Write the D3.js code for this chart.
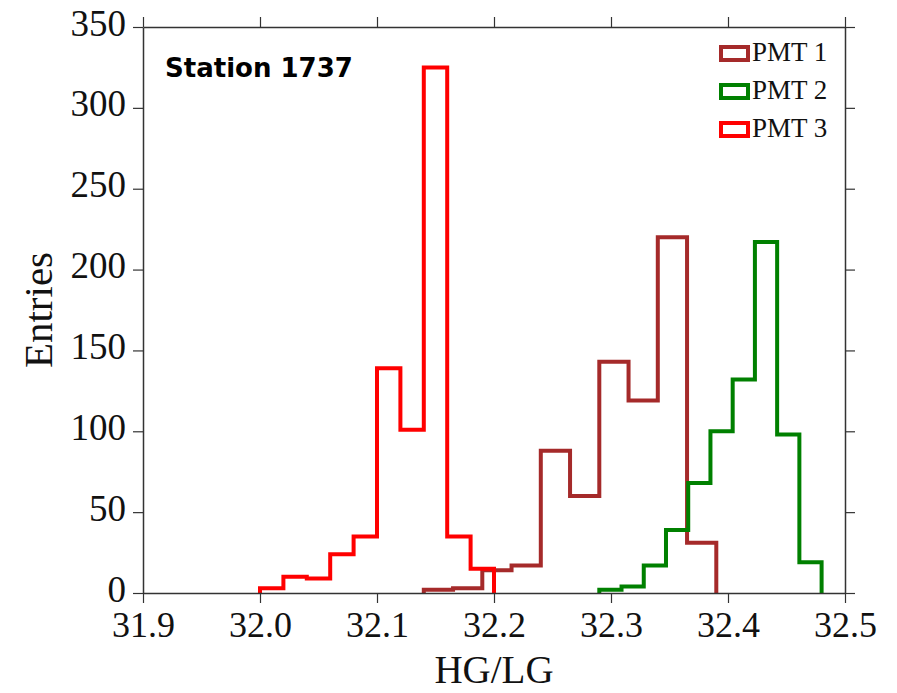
<!DOCTYPE html>
<html>
<head>
<meta charset="utf-8">
<script src="https://cdn.jsdelivr.net/npm/d3@7"></script>
<style>
    body { margin: 0; background: #fff; }
    .tick text { font-family: "Liberation Serif", serif; fill: #111; }
    .tick line, .domain { stroke: #333; }
</style>
</head>
<body>
<div id="chart"></div>
<script>
const width = 897,
    height = 693;

// Bin edges and counts (each PMT has its own binning)
const pmt1Edges = [32.140, 32.165, 32.190, 32.215, 32.240, 32.265, 32.290, 32.315, 32.340, 32.365, 32.390];
const pmt1Counts = [2, 3, 14, 17, 88, 60, 143, 119, 220, 31];

const pmt2Edges = [32.290, 32.309, 32.328, 32.347, 32.366, 32.385, 32.404, 32.423, 32.442, 32.461, 32.480];
const pmt2Counts = [2, 4, 17, 39, 68, 100, 132, 217, 98, 19];

const pmt3Edges = [32.00, 32.02, 32.04, 32.06, 32.08, 32.10, 32.12, 32.14, 32.16, 32.18, 32.20];
const pmt3Counts = [3, 10, 9, 24, 35, 139, 101, 325, 35, 15];

const xTicks = [31.9, 32.0, 32.1, 32.2, 32.3, 32.4, 32.5];
const yTicks = [0, 50, 100, 150, 200, 250, 300, 350];

const seriesNames = ["PMT 1", "PMT 2", "PMT 3"];
const seriesColors = ["#a52a2a", "#008000", "#ff0000"];

const margin = {top: 27, right: 52, bottom: 100, left: 143};

let svg = d3.select('#chart').append('svg')
    .attr('width', width)
    .attr('height', height);

let x = d3.scaleLinear()
    .domain([31.9, 32.5])
    .range([margin.left, width - margin.right]);

let y = d3.scaleLinear()
    .domain([0, 350])
    .range([height - margin.bottom, margin.top]);

// Turn edges + counts into an outline: up at the first edge, steps, down at the last edge
function outline(edges, counts) {
    let pts = [[edges[0], 0]];
    counts.forEach(function (c, i) {
        pts.push([edges[i], c]);
        pts.push([edges[i + 1], c]);
    });
    pts.push([edges[edges.length - 1], 0]);
    return pts;
}

let line = d3.line()
    .x(d => x(d[0]))
    .y(d => y(d[1]));

const series = [
    {edges: pmt1Edges, counts: pmt1Counts},
    {edges: pmt2Edges, counts: pmt2Counts},
    {edges: pmt3Edges, counts: pmt3Counts}
];

svg.append("g")
    .selectAll("path")
    .data(series)
    .enter()
    .append("path")
    .attr("fill", "none")
    .attr("stroke", (d, i) => seriesColors[i])
    .attr("stroke-width", 4)
    .attr("stroke-linejoin", "miter")
    .attr("d", d => line(outline(d.edges, d.counts)));

// Axes on all four sides, ticks pointing outward
const fmt = d3.format(".1f");

let xBottom = svg.append("g")
    .attr("transform", `translate(0,${y(0)})`)
    .call(d3.axisBottom(x).tickValues(xTicks).tickFormat(fmt).tickSize(10).tickSizeOuter(0));
xBottom.selectAll("text").attr("font-size", 36).attr("dy", "0.87em");

svg.append("g")
    .attr("transform", `translate(0,${y(350)})`)
    .call(d3.axisTop(x).tickValues(xTicks).tickFormat("").tickSize(10).tickSizeOuter(0));

let yLeft = svg.append("g")
    .attr("transform", `translate(${x(31.9)},0)`)
    .call(d3.axisLeft(y).tickValues(yTicks).tickSize(10).tickSizeOuter(0));
yLeft.selectAll("text").attr("font-size", 37).attr("dy", "0.22em").attr("x", -17);

svg.append("g")
    .attr("transform", `translate(${x(32.5)},0)`)
    .call(d3.axisRight(y).tickValues(yTicks).tickFormat("").tickSize(10).tickSizeOuter(0));

svg.selectAll(".domain").attr("stroke-width", 1.5);
svg.selectAll(".tick line").attr("stroke-width", 1.2);

// Axis titles
svg.append("text")
    .attr("x", (x(31.9) + x(32.5)) / 2)
    .attr("y", 683)
    .attr("text-anchor", "middle")
    .style("font-family", "Liberation Serif, serif")
    .style("font-size", "39px")
    .attr("fill", "#111")
    .text("HG/LG");

svg.append("text")
    .attr("transform", `translate(52,${(y(0) + y(350)) / 2}) rotate(-90)`)
    .attr("text-anchor", "middle")
    .style("font-family", "Liberation Serif, serif")
    .style("font-size", "41px")
    .attr("fill", "#111")
    .text("Entries");

// Station label
svg.append("text")
    .attr("x", 165)
    .attr("y", 77)
    .style("font-family", "DejaVu Sans, sans-serif")
    .style("font-weight", "bold")
    .style("font-size", "26px")
    .attr("fill", "#000")
    .text("Station 1737");

// Legend
let legend = svg.append("g")
    .selectAll("g")
    .data(seriesNames)
    .enter()
    .append("g")
    .attr("transform", (d, i) => `translate(721,${47 + i * 38})`);

legend.append("rect")
    .attr("width", 27)
    .attr("height", 13)
    .attr("fill", "none")
    .attr("stroke", (d, i) => seriesColors[i])
    .attr("stroke-width", 4);

legend.append("text")
    .attr("x", 31)
    .attr("y", 14)
    .style("font-family", "Liberation Serif, serif")
    .style("font-size", "27px")
    .attr("fill", "#111")
    .text(d => d);
</script>
</body>
</html>
